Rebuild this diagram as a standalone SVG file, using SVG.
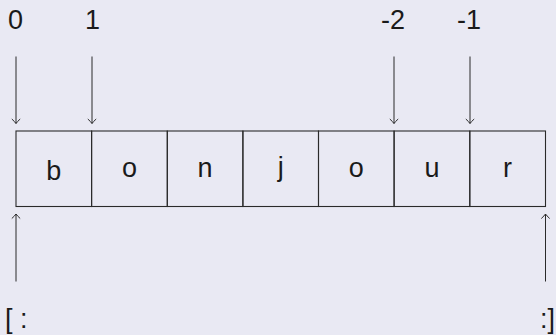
<svg xmlns="http://www.w3.org/2000/svg" width="556" height="335" viewBox="0 0 556 335">
<defs>
<style>
.t{font-family:"Liberation Sans",Arial,sans-serif;font-size:27px;fill:#1a1a1a;text-anchor:middle}
.cell{fill:none;stroke:#2a2a2a;stroke-width:1.1}
.arr{stroke:#2a2a2a;stroke-width:1;fill:none;marker-end:url(#to)}
</style>
<marker id="to" markerUnits="userSpaceOnUse" markerWidth="12" markerHeight="12" viewBox="-6 -6 12 12" refX="0" refY="0" orient="auto">
<path d="M -4.5 -4.2 Q -1.6 -1 0 0 Q -1.6 1 -4.5 4.2" fill="none" stroke="#2a2a2a" stroke-width="1"/>
</marker>
</defs>
<rect width="556" height="335" fill="#e9e9f3"/>
<g id="cell-b"><rect class="cell" x="16" y="131" width="75.6" height="75.5"/><text class="t" x="53.8" y="179.5">b</text></g>
<g id="cell-o1"><rect class="cell" x="91.6" y="131" width="75.7" height="75.5"/><text class="t" x="129.4" y="176.5">o</text></g>
<g id="cell-n"><rect class="cell" x="167.3" y="131" width="75.6" height="75.5"/><text class="t" x="205.1" y="176.5">n</text></g>
<g id="cell-j"><rect class="cell" x="242.9" y="131" width="75.6" height="75.5"/><text class="t" x="280.7" y="175.5">j</text></g>
<g id="cell-o2"><rect class="cell" x="318.5" y="131" width="75.6" height="75.5"/><text class="t" x="356.3" y="176.5">o</text></g>
<g id="cell-u"><rect class="cell" x="394.1" y="131" width="75.7" height="75.5"/><text class="t" x="431.9" y="176.5">u</text></g>
<g id="cell-r"><rect class="cell" x="469.8" y="131" width="75.7" height="75.5"/><text class="t" x="507.6" y="176.5">r</text></g>
<g id="label-0"><text class="t" x="15.5" y="28.5">0</text></g>
<g id="label-1"><text class="t" x="92.5" y="28.5">1</text></g>
<g id="label-m2"><text class="t" x="393" y="28.5">-2</text></g>
<g id="label-m1"><text class="t" x="469" y="28.5">-1</text></g>
<g id="label-start"><text class="t" x="5" y="328" style="text-anchor:start">[ :</text></g>
<g id="label-end"><text class="t" x="555" y="328" style="text-anchor:end">:]</text></g>
<g id="connectors">
<line class="arr" x1="16" y1="56.5" x2="16" y2="123.5"/>
<line class="arr" x1="92" y1="56.5" x2="92" y2="123.5"/>
<line class="arr" x1="394" y1="56.5" x2="394" y2="123.5"/>
<line class="arr" x1="470" y1="56.5" x2="470" y2="123.5"/>
<line class="arr" x1="16" y1="281.5" x2="16" y2="214"/>
<line class="arr" x1="545.5" y1="281.5" x2="545.5" y2="214"/>
</g>
</svg>
